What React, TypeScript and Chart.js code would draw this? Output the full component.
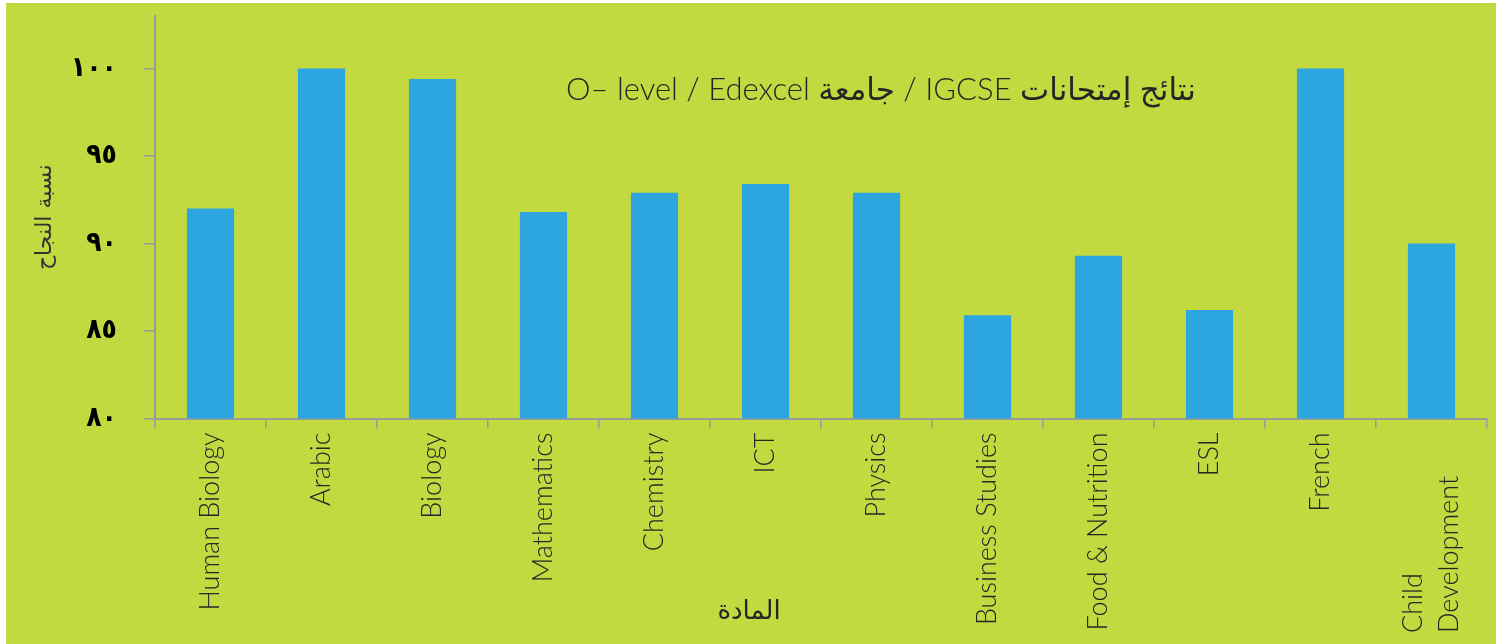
import React, { useEffect, useRef } from 'react';
import { Chart, registerables } from 'chart.js';

Chart.register(...registerables);

const categories: (string | string[])[] = [
  'Human Biology',
  'Arabic',
  'Biology',
  'Mathematics',
  'Chemistry',
  'ICT',
  'Physics',
  'Business Studies',
  'Food & Nutrition',
  'ESL',
  'French',
  ['Child', 'Development'],
];
const passRates = [92, 100, 99.4, 91.8, 92.9, 93.4, 92.9, 85.9, 89.3, 86.2, 100, 90];
const yTickValues = [80, 85, 90, 95, 100];
const yTickLabels = ['٨٠', '٨٥', '٩٠', '٩٥', '١٠٠'];
const chartTitle = 'O– level / Edexcel جامعة / IGCSE نتائج إمتحانات';
const xAxisTitle = 'المادة';
const yAxisTitle = 'نسبة النجاح';

const BG = '#c2d940';
const BAR = '#2da6e0';
const AXIS = '#9a9a9a';
const TEXT = '#262626';
const LATIN = '"Lato Light", Lato, "DejaVu Sans", sans-serif';

const W = 1490;
const H = 641;

const decorPlugin = {
  id: 'decor',
  afterDraw(chart: any) {
    const { ctx, chartArea, scales } = chart;
    const xs = scales.x;
    ctx.save();
    ctx.fillStyle = TEXT;
    ctx.font = `27px ${LATIN}`;
    categories.forEach((cat, i) => {
      const px = xs.getPixelForValue(i);
      ctx.save();
      ctx.textBaseline = 'middle';
      if (Array.isArray(cat)) {
        ctx.translate(px, chart.height - 11);
        ctx.rotate(-Math.PI / 2);
        ctx.textAlign = 'left';
        cat.forEach((line, j) => {
          ctx.fillText(line, 0, (j - (cat.length - 1) / 2) * 36);
        });
      } else {
        ctx.translate(px, chartArea.bottom + 14);
        ctx.rotate(-Math.PI / 2);
        ctx.textAlign = 'right';
        ctx.fillText(cat, 0, 0);
      }
      ctx.restore();
    });
    ctx.textAlign = 'center';
    ctx.textBaseline = 'middle';
    ctx.font = `31px ${LATIN}`;
    ctx.fillText(chartTitle, chartArea.left + chartArea.width * 0.545, chartArea.top + 74);
    ctx.font = '26px "DejaVu Sans", sans-serif';
    ctx.fillText(xAxisTitle, chartArea.left + chartArea.width * 0.446, 609);
    ctx.restore();
  },
};

export default function App() {
  const ref = useRef<HTMLCanvasElement>(null);
  useEffect(() => {
    if (!ref.current) return;
    const chart = new Chart(ref.current, {
      type: 'bar',
      data: {
        labels: categories as any,
        datasets: [
          {
            data: passRates,
            backgroundColor: BAR,
            borderWidth: 0,
            barPercentage: 0.425,
            categoryPercentage: 1,
          },
        ],
      },
      options: {
        animation: false,
        responsive: false,
        devicePixelRatio: 1,
        layout: { padding: { top: 13, right: 9, left: 0, bottom: 0 } },
        plugins: {
          legend: { display: false },
          tooltip: { enabled: false },
          title: { display: false },
        },
        scales: {
          x: {
            type: 'category',
            offset: true,
            grid: {
              display: true,
              drawOnChartArea: false,
              drawTicks: true,
              tickLength: 10,
              color: AXIS,
              lineWidth: 1.5,
              offset: true,
            },
            border: { display: true, color: AXIS, width: 2 },
            ticks: { display: false },
            afterFit: (scale: any) => {
              scale.height = 225.5;
              scale.paddingLeft = 0;
              scale.paddingRight = 0;
            },
          },
          y: {
            min: 80,
            max: 103,
            afterBuildTicks: (scale: any) => {
              scale.ticks = yTickValues.map((v) => ({ value: v }));
            },
            grid: {
              display: true,
              drawOnChartArea: false,
              drawTicks: true,
              tickLength: 11,
              color: AXIS,
              lineWidth: 1.5,
            },
            border: { display: true, color: AXIS, width: 2 },
            ticks: {
              padding: 27,
              color: '#000',
              font: { family: '"DejaVu Sans Condensed", "DejaVu Sans", sans-serif', size: 28, weight: 'bold' },
              callback: (value: any) => {
                const idx = yTickValues.indexOf(Number(value));
                return idx >= 0 ? yTickLabels[idx] : '';
              },
            },
            title: {
              display: true,
              text: yAxisTitle,
              color: '#333',
              font: { family: '"DejaVu Sans", sans-serif', size: 22 },
              padding: { top: 26, bottom: 0 },
            },
            afterFit: (scale: any) => {
              scale.width = 149;
              scale.paddingTop = 0;
              scale.paddingBottom = 0;
            },
          },
        },
      },
      plugins: [decorPlugin],
    });
    return () => chart.destroy();
  }, []);

  return (
    <div
      style={{
        position: 'absolute',
        left: 6,
        top: 3,
        width: W,
        height: H,
        background: BG,
      }}
    >
      <canvas ref={ref} width={W} height={H} style={{ width: W, height: H, display: 'block' }} />
    </div>
  );
}
